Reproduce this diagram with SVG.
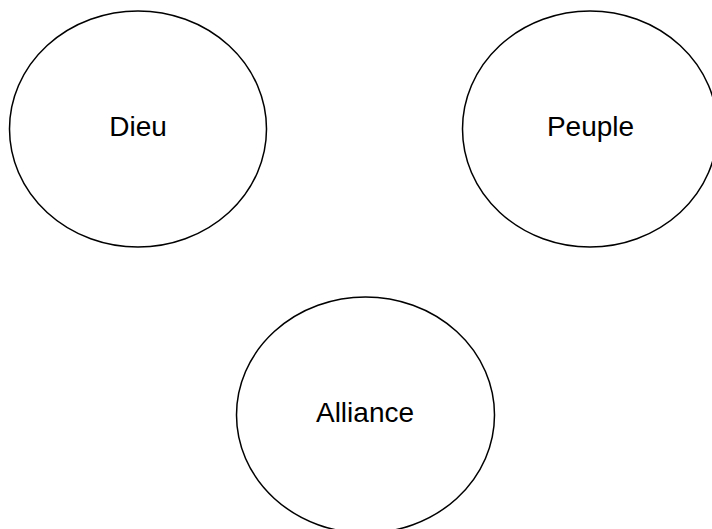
<svg xmlns="http://www.w3.org/2000/svg" width="712" height="529" viewBox="0 0 712 529">
  <style>
    .node ellipse { fill: #ffffff; stroke: #000000; stroke-width: 1.5; }
    .node text { font-family: "Liberation Sans", Arial, sans-serif; font-size: 28px; fill: #000000; text-anchor: middle; }
  </style>
  <rect width="712" height="529" fill="#ffffff"/>
  <g id="connectors"></g>
  <g id="node-dieu" class="node">
    <ellipse cx="138" cy="129" rx="128.5" ry="118"/>
    <text x="138" y="136">Dieu</text>
  </g>
  <g id="node-peuple" class="node">
    <ellipse cx="590" cy="129" rx="127.5" ry="118"/>
    <text x="590.5" y="136">Peuple</text>
  </g>
  <g id="node-alliance" class="node">
    <ellipse cx="365.5" cy="415" rx="129" ry="118"/>
    <text x="365" y="422">Alliance</text>
  </g>
</svg>
